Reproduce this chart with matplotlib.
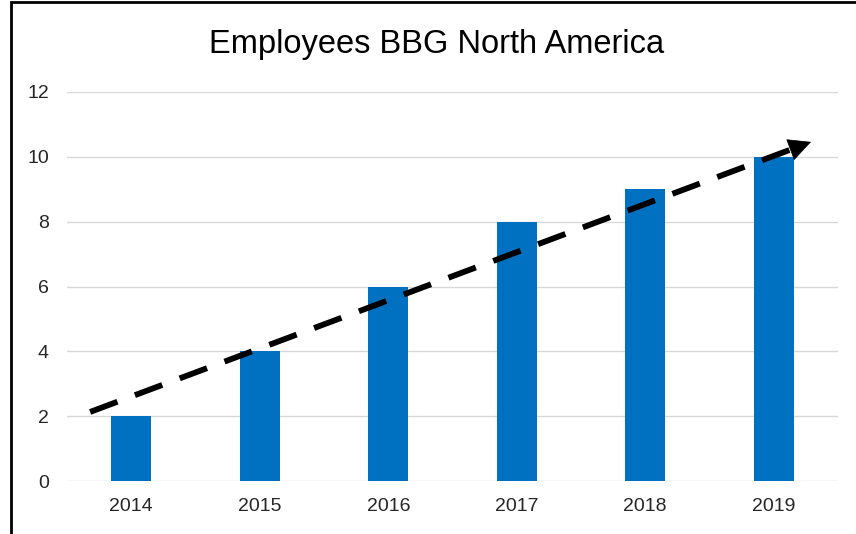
import matplotlib.pyplot as plt
from matplotlib.patches import Rectangle
import numpy as np

# Data
years = ['2014', '2015', '2016', '2017', '2018', '2019']
employees = [2, 4, 6, 8, 9, 10]
yticks = [0, 2, 4, 6, 8, 10, 12]

# Trend arrow endpoints (data coords)
arrow_start = (-0.32, 2.13)
arrow_end = (5.29, 10.46)

plt.rcParams['font.family'] = ['Liberation Sans', 'DejaVu Sans']

fig = plt.figure(figsize=(8.56, 5.34), dpi=100)
fig.patch.set_facecolor('white')
ax = fig.add_axes([67 / 856, 1 - 481 / 534, (838 - 67) / 856, (481 - 92) / 534])

x = np.arange(len(years))
ax.bar(x, employees, width=0.31, color='#0070C0', zorder=2)

ax.set_xlim(-0.5, len(years) - 0.5)
ax.set_ylim(0, 12)
ax.set_yticks(yticks)
ax.set_yticklabels([str(t) for t in yticks], fontsize=14, color='#262626')
ax.set_xticks(x)
ax.set_xticklabels(years, fontsize=14, color='#262626')
ax.tick_params(axis='x', length=0, pad=12)
ax.tick_params(axis='y', length=0, pad=13)
ax.grid(axis='y', color='#d9d9d9', linewidth=1, zorder=0)
for s in ax.spines.values():
    s.set_visible(False)

# Dashed trend arrow
sx, sy = arrow_start
ex, ey = arrow_end
f = 0.974
mx, my = sx + (ex - sx) * f, sy + (ey - sy) * f
ax.plot([sx, mx], [sy, my], color='black',
        linewidth=4.2, linestyle=(0, (5, 3.2)),
        dash_capstyle='butt', zorder=3, clip_on=False)
ax.annotate('', xy=(ex, ey), xytext=(mx, my),
            arrowprops=dict(arrowstyle='-|>,head_length=0.4,head_width=0.2',
                            facecolor='black', edgecolor='black', lw=0.5,
                            mutation_scale=38, shrinkA=0, shrinkB=0),
            zorder=4, annotation_clip=False)

fig.text(437 / 856, 1 - 45 / 534, 'Employees BBG North America', ha='center',
         va='center', fontsize=23.5, color='black')

# Outer border
fig.patches.append(Rectangle((11 / 856, -0.1), 1.2, 1.1 - 2 / 534,
                             transform=fig.transFigure, fill=False,
                             edgecolor='black', linewidth=2))

fig.savefig('out.png', dpi=100)
